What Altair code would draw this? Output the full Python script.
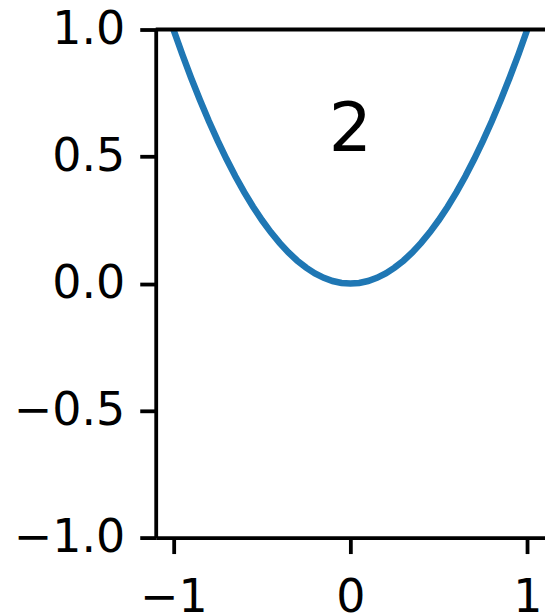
import altair as alt
import pandas as pd

# Curve samples
xs = [-1.00, -0.95, -0.90, -0.85, -0.80, -0.75, -0.70, -0.65, -0.60, -0.55,
      -0.50, -0.45, -0.40, -0.35, -0.30, -0.25, -0.20, -0.15, -0.10, -0.05,
      0.00, 0.05, 0.10, 0.15, 0.20, 0.25, 0.30, 0.35, 0.40, 0.45,
      0.50, 0.55, 0.60, 0.65, 0.70, 0.75, 0.80, 0.85, 0.90, 0.95, 1.00]
ys = [1.0000, 0.9025, 0.8100, 0.7225, 0.6400, 0.5625, 0.4900, 0.4225, 0.3600, 0.3025,
      0.2500, 0.2025, 0.1600, 0.1225, 0.0900, 0.0625, 0.0400, 0.0225, 0.0100, 0.0025,
      0.0000, 0.0025, 0.0100, 0.0225, 0.0400, 0.0625, 0.0900, 0.1225, 0.1600, 0.2025,
      0.2500, 0.3025, 0.3600, 0.4225, 0.4900, 0.5625, 0.6400, 0.7225, 0.8100, 0.9025, 1.0000]

x_ticks = [-1, 0, 1]
y_ticks = [-1.0, -0.5, 0.0, 0.5, 1.0]

label_text = ["2"]
label_x = [0.0]
label_y = [0.52]

curve = pd.DataFrame({"x": xs, "y": ys})
labels = pd.DataFrame({"x": label_x, "y": label_y, "t": label_text})

FONT = "DejaVu Sans"

x_scale = alt.Scale(domain=[-1.1, 1.1], nice=False, zero=False)
y_scale = alt.Scale(domain=[-1.0, 1.0], nice=False, zero=False)

x_axis = alt.Axis(values=x_ticks, format="d", title=None, grid=False,
                  domainColor="black", domainWidth=3.8, tickColor="black",
                  tickWidth=3.8, tickSize=16, labelFont=FONT, labelFontSize=46,
                  labelColor="black", labelPadding=22, labelFlush=False)
y_axis = alt.Axis(values=y_ticks, format=".1f", title=None, grid=False,
                  domainColor="black", domainWidth=3.8, tickColor="black",
                  tickWidth=3.8, tickSize=16, labelFont=FONT, labelFontSize=46,
                  labelColor="black", labelPadding=15, labelFlush=False)

line = alt.Chart(curve).mark_line(color="#1f77b4", strokeWidth=6.5, clip=True).encode(
    x=alt.X("x:Q", scale=x_scale, axis=x_axis),
    y=alt.Y("y:Q", scale=y_scale, axis=y_axis),
)

# Top spine along the upper edge of the plot area
top_spine = alt.Chart().mark_rule(color="black", strokeWidth=3.8).encode(
    y=alt.datum(1.0, scale=y_scale),
)

text = alt.Chart(labels).mark_text(font=FONT, fontSize=68, color="black",
                                   align="center", baseline="alphabetic").encode(
    x=alt.X("x:Q", scale=x_scale),
    y=alt.Y("y:Q", scale=y_scale),
    text="t:N",
)

chart = alt.layer(line, top_spine, text).properties(
    width=390, height=509,
    background="white",
    autosize=alt.AutoSizeParams(type="none"),
    padding={"left": 156, "top": 29, "right": 0, "bottom": 78},
).configure_view(strokeWidth=0)

chart.save("out.html", embed_options={"renderer": "svg", "actions": False})
